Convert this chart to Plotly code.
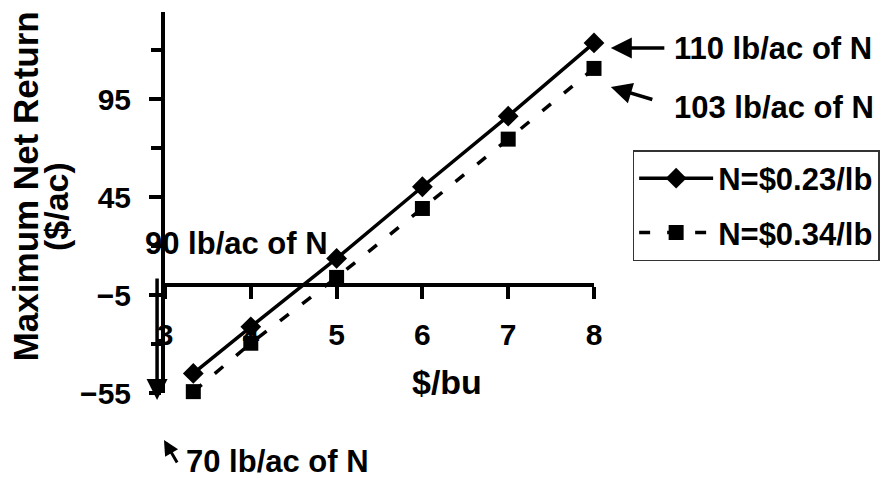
import plotly.graph_objects as go

# ---- data ----
price = [3.33, 4, 5, 6, 7, 8]                      # $/bu
return_023 = [-45.0, -21.2, 13.7, 50.3, 86.3, 123.7]  # N=$0.23/lb
return_034 = [-54.3, -29.6, 4.0, 39.2, 74.6, 110.7]   # N=$0.34/lb
series_names = ["N=$0.23/lb", "N=$0.34/lb"]
x_ticks = [3, 4, 5, 6, 7, 8]
y_ticks = [-55, -5, 45, 95]

FONT = "Arial, 'Liberation Sans', sans-serif"
BLACK = "#000000"

fig = go.Figure()
fig.add_trace(go.Scatter(
    x=price, y=return_023, name=series_names[0], mode="lines+markers",
    legendgroup="a",
    line=dict(color=BLACK, width=3.5),
    marker=dict(symbol="diamond", size=16, color=BLACK),
    cliponaxis=False))
fig.add_trace(go.Scatter(
    x=price, y=return_034, name=series_names[1], mode="lines+markers",
    legendgroup="b",
    line=dict(color=BLACK, width=3.5, dash="11px,17px"),
    marker=dict(symbol="square", size=15, color=BLACK),
    cliponaxis=False))

# pixel -> paper helpers (plot area 165..598 x, 12..393 y)
def px(p):
    return (p - 165) / 433

def py(p):
    return (393 - p) / 381

ann_font = dict(family=FONT, size=31, color=BLACK, weight="bold")
arrow_style = dict(text="", showarrow=True, arrowhead=2, arrowsize=1.2,
                   arrowwidth=3.5, arrowcolor=BLACK, axref="pixel", ayref="pixel")
annotations = [
    # arrows (tip position, tail offset in pixels)
    dict(x=px(615), y=py(48), ax=55, ay=0, **arrow_style),
    dict(x=px(615), y=py(87), ax=43, ay=13, **arrow_style),
    dict(x=px(157), y=py(400), ax=0, ay=-123, **arrow_style),
    dict(x=px(164), y=py(440), ax=14, ay=24,
         **{**arrow_style, "arrowsize": 1.0, "arrowwidth": 3}),
    # labels
    dict(x=px(677), y=py(48), text="110 lb/ac of N", showarrow=False,
         xanchor="left", yanchor="middle", font=ann_font),
    dict(x=px(677), y=py(107), text="103 lb/ac of N", showarrow=False,
         xanchor="left", yanchor="middle", font=ann_font),
    dict(x=px(237), y=py(243), text="90 lb/ac of N", showarrow=False,
         xanchor="center", yanchor="middle", font=ann_font),
    dict(x=px(185), y=py(480), text="70 lb/ac of N", showarrow=False,
         xanchor="left", yanchor="bottom", borderpad=0, font=ann_font),
    # axis titles
    dict(x=px(450), y=py(382), xanchor="center", yanchor="middle",
         text="$/bu", showarrow=False,
         font=dict(family=FONT, size=34, color=BLACK, weight="bold")),
    dict(x=px(24), y=py(186), xanchor="center", yanchor="middle",
         text="Maximum Net Return", textangle=-90, showarrow=False,
         font=dict(family=FONT, size=35, color=BLACK, weight="bold")),
    dict(x=px(55), y=py(207), xanchor="center", yanchor="middle",
         text="($/ac)", textangle=-90, showarrow=False,
         font=dict(family=FONT, size=34, color=BLACK, weight="bold")),
]
for a in annotations:
    a["xref"] = "paper"
    a["yref"] = "paper"

fig.update_layout(
    width=892, height=481,
    margin=dict(l=165, r=892 - 598, t=12, b=481 - 393, pad=0),
    paper_bgcolor="white", plot_bgcolor="white",
    font=dict(family=FONT, color=BLACK),
    showlegend=True,
    legend=dict(
        x=px(637), y=py(150), xanchor="left", yanchor="top",
        bordercolor="#333333", borderwidth=1.5, bgcolor="white",
        font=dict(family=FONT, size=31, color=BLACK, weight="bold"),
        itemwidth=74, tracegroupgap=11),
    xaxis=dict(
        range=[3, 8], anchor="free", position=(393 - 285.2) / 381,
        tickvals=x_ticks, ticktext=[str(v) for v in x_ticks],
        showline=True, linecolor=BLACK, linewidth=4,
        ticks="outside", ticklen=12, tickwidth=4, tickcolor=BLACK,
        ticklabelstandoff=10,
        tickfont=dict(family=FONT, size=30, color=BLACK, weight="bold"),
        showgrid=False, zeroline=False, fixedrange=True),
    yaxis=dict(
        range=[-55, 139.5], tickmode="array", tickvals=y_ticks,
        showline=True, linecolor=BLACK, linewidth=4,
        ticks="outside", ticklen=12, tickwidth=4, tickcolor=BLACK,
        ticklabelstandoff=12,
        minor=dict(ticks="outside", ticklen=10, tickwidth=4, tickcolor=BLACK,
                   tick0=-55, dtick=25, showgrid=False),
        tickfont=dict(family=FONT, size=30, color=BLACK, weight="bold"),
        showgrid=False, zeroline=False, fixedrange=True),
    annotations=annotations,
)

fig.write_html("out.html", config={"displayModeBar": False})
